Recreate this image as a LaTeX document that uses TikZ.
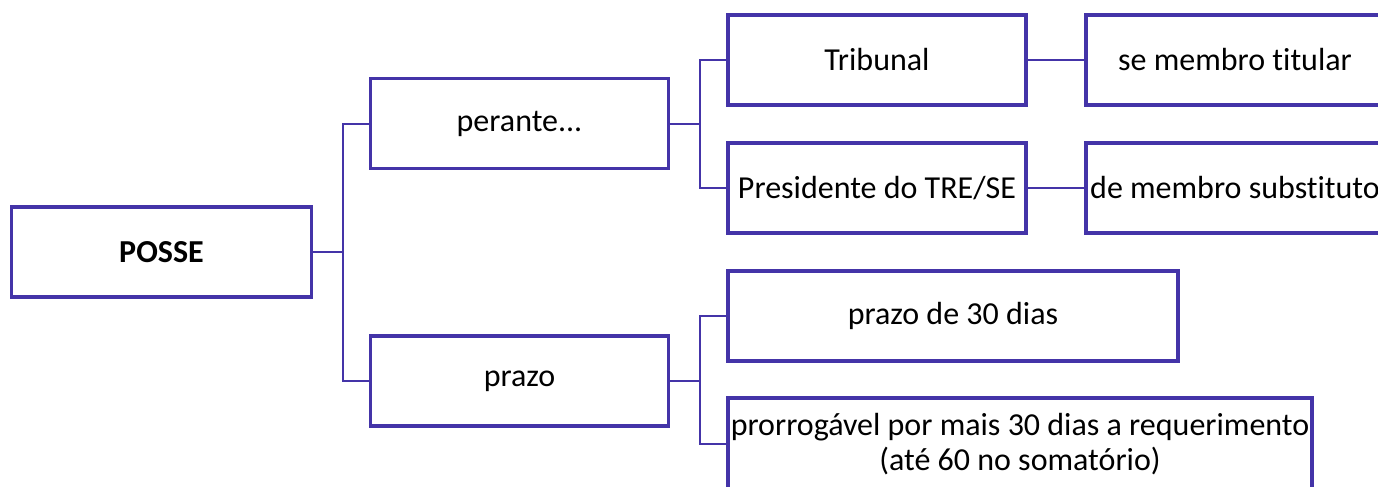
\documentclass[tikz,border=0pt]{standalone}
\usepackage{fontspec}
\setmainfont{Carlito}[Ligatures=NoCommon]
\usepackage{tikz}
\usetikzlibrary{positioning}
\definecolor{indigo}{RGB}{68,52,168}

\begin{document}
\begin{tikzpicture}
[x=0.5pt, y=-0.5pt,
every node/.style={font=\fontsize{16}{17.5}\selectfont},
box/.style={draw=indigo, line width=1.75pt, minimum width=149pt, minimum height=45pt, inner sep=0pt, align=center},
wide/.style={box, minimum width=225pt},
wider/.style={box, minimum width=292pt, minimum height=46pt},
link/.style={draw=indigo, line width=1pt}
]
  \useasboundingbox (0,0) rectangle (1378,487);
  \clip (0,0) rectangle (1378,487);

  \node[box, minimum width=150pt]  (posse)      at (161.5,252) {\textbf{POSSE}};
  \node[box]  (perante)    at (519.5,123.5) {perante.{}.{}.};
  \node[box]  (prazo)      at (519.5,381)   {prazo};
  \node[box]  (tribunal)   at (877,60)      {Tribunal};
  \node[box]  (presidente) at (877,188)     {Presidente do TRE/SE};
  \node[box]  (titular)    at (1235,60)     {se membro titular};
  \node[box]  (substituto) at (1235,188)    {de membro substituto};
  \node[wide] (trinta)     at (953,316)     {prazo de 30 dias};
  \node[wider] (prorrog)   at (1020,444)    {prorrogável por mais 30 dias a requerimento\\(até 60 no somatório)};

  % ligacoes
  \draw[link] (posse.east) -- ++(30,0) |- (perante.west);
  \draw[link] (posse.east) -- ++(30,0) |- (prazo.west);
  \draw[link] (perante.east) -- ++(30,0) |- (tribunal.west);
  \draw[link] (perante.east) -- ++(30,0) |- (presidente.west);
  \draw[link] (prazo.east) -- ++(30,0) |- (trinta.west);
  \draw[link] (prazo.east) -- ++(30,0) |- (prorrog.west);
  \draw[link] (tribunal) -- (titular);
  \draw[link] (presidente) -- (substituto);
\end{tikzpicture}
\end{document}
